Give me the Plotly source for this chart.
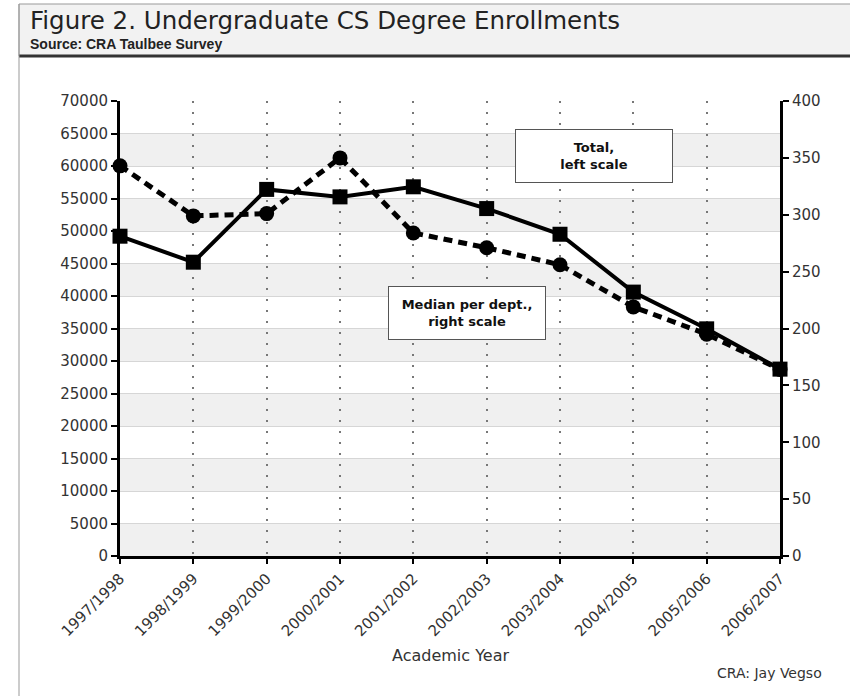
import plotly.graph_objects as go

years = ["1997/1998", "1998/1999", "1999/2000", "2000/2001", "2001/2002",
         "2002/2003", "2003/2004", "2004/2005", "2005/2006", "2006/2007"]
total = [49200, 45200, 56400, 55250, 56800, 53450, 49500, 40600, 34950, 28750]
median = [343, 299, 301, 350, 284, 271, 256, 219, 195, 164]
left_ticks = list(range(0, 70001, 5000))
right_ticks = list(range(0, 401, 50))

W, H = 850, 696
L, R, T, B = 120, 70, 101, 140
PW, PH = W - L - R, H - T - B


def px(x):
    return (x - L) / PW


def py(y):
    return (H - B - y) / PH


FONT = "DejaVu Sans, Verdana, sans-serif"

fig = go.Figure()
fig.add_trace(go.Scatter(
    x=years, y=median, yaxis="y2", mode="lines+markers",
    line=dict(color="black", width=5, dash="9px,6px"),
    marker=dict(symbol="circle", size=15, color="black"),
    cliponaxis=False, showlegend=False))
fig.add_trace(go.Scatter(
    x=years, y=total, mode="lines+markers",
    line=dict(color="black", width=4),
    marker=dict(symbol="square", size=15, color="black"),
    cliponaxis=False, showlegend=False))

shapes = []
# alternating bands
for i in range(0, len(left_ticks) - 1, 2):
    shapes.append(dict(type="rect", xref="paper", yref="y", x0=0, x1=1,
                       y0=left_ticks[i], y1=left_ticks[i + 1],
                       fillcolor="#f0f0f0", line=dict(width=0), layer="below"))
# header
shapes.append(dict(type="rect", xref="paper", yref="paper",
                   x0=px(19), x1=px(851), y0=py(56), y1=py(4),
                   fillcolor="#f2f2f2", line=dict(color="#999", width=1), layer="below"))
shapes.append(dict(type="line", xref="paper", yref="paper",
                   x0=px(19), x1=px(851), y0=py(56), y1=py(56),
                   line=dict(color="#333", width=3)))
# outer left border
shapes.append(dict(type="line", xref="paper", yref="paper",
                   x0=px(19), x1=px(19), y0=py(4), y1=py(700),
                   line=dict(color="#999", width=1)))

annotations = [
    dict(text="Figure 2. Undergraduate CS Degree Enrollments", xref="paper", yref="paper",
         x=px(28), y=py(21), xanchor="left", yanchor="middle", showarrow=False,
         font=dict(family=FONT, size=24.5, color="#222")),
    dict(text="<b>Source: CRA Taulbee Survey</b>", xref="paper", yref="paper",
         x=px(28), y=py(44), xanchor="left", yanchor="middle", showarrow=False,
         font=dict(family="Liberation Sans, Arial, sans-serif",
                   size=14, color="#222")),
    dict(text="<b>Total,<br>left scale</b>", xref="paper", yref="paper",
         x=px(594), y=py(156), xanchor="center", yanchor="middle",
         showarrow=False, width=150, height=46,
         bgcolor="white", bordercolor="#555", borderwidth=1, borderpad=3,
         font=dict(family=FONT, size=13, color="#111")),
    dict(text="<b>Median per dept.,<br>right scale</b>", xref="paper", yref="paper",
         x=px(467), y=py(313), xanchor="center", yanchor="middle",
         showarrow=False, width=150, height=46,
         bgcolor="white", bordercolor="#555", borderwidth=1, borderpad=3,
         font=dict(family=FONT, size=13, color="#111")),
    dict(text="Academic Year", xref="paper", yref="paper",
         x=0.5, y=py(655), xanchor="center", yanchor="middle", showarrow=False,
         font=dict(family=FONT, size=16, color="#333")),
    dict(text="CRA: Jay Vegso", xref="paper", yref="paper",
         x=px(824), y=py(673), xanchor="right", yanchor="middle", showarrow=False,
         font=dict(family=FONT, size=14, color="#333")),
]

fig.update_layout(
    width=W, height=H,
    margin=dict(l=L, r=R, t=T, b=B, pad=0),
    paper_bgcolor="white", plot_bgcolor="white",
    shapes=shapes, annotations=annotations,
    font=dict(family=FONT, size=15, color="#333"),
    xaxis=dict(type="category", range=[0, len(years) - 1],
               showgrid=True, gridcolor="#777", gridwidth=2, griddash="2px,9px",
               showline=True, linecolor="black", linewidth=3,
               ticks="outside", ticklen=5, tickwidth=2, tickcolor="black",
               tickangle=-45, tickfont=dict(size=15, color="#333"), zeroline=False),
    yaxis=dict(range=[0, 70000], tickvals=left_ticks,
               ticktext=[str(v) for v in left_ticks], showgrid=True,
               gridcolor="#d6d6d6", gridwidth=1, zeroline=False,
               showline=True, linecolor="black", linewidth=3,
               ticks="outside", ticklen=6, tickwidth=2, tickcolor="black",
               tickfont=dict(size=15, color="#333")),
    yaxis2=dict(range=[0, 400], tickvals=right_ticks,
                ticktext=[str(v) for v in right_ticks], overlaying="y", side="right",
                showgrid=False, zeroline=False,
                showline=True, linecolor="black", linewidth=3,
                ticks="outside", ticklen=6, tickwidth=2, tickcolor="black",
                tickfont=dict(size=15, color="#333")),
)

fig.write_html("out.html", config={"displayModeBar": False},
               post_script="document.body.style.margin='0';")
